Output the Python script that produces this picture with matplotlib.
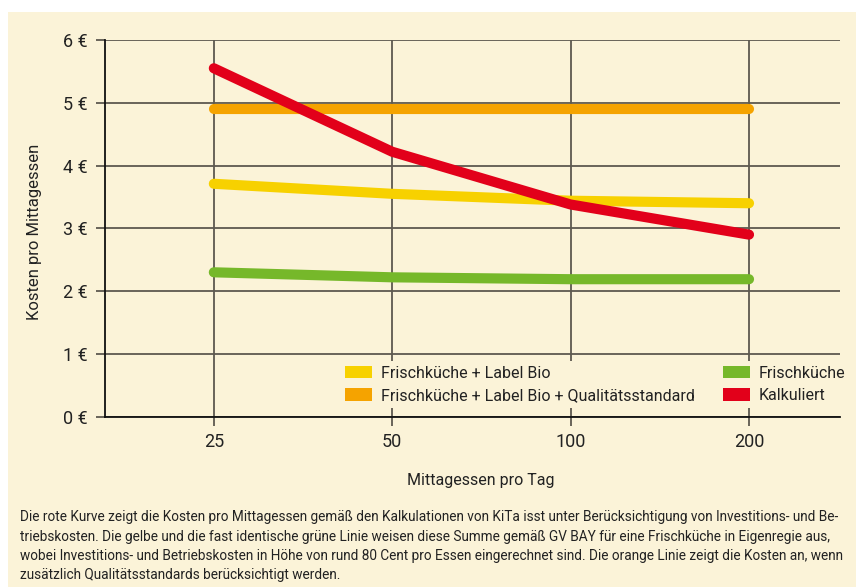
import matplotlib
matplotlib.use('Agg')
import matplotlib.pyplot as plt
from matplotlib.patches import Patch

plt.rcParams['font.family'] = ['Roboto', 'DejaVu Sans']

# ------------------------------------------------------------
# Daten
# ------------------------------------------------------------
meals = ['25', '50', '100', '200']
y_ticks = [0, 1, 2, 3, 4, 5, 6]
y_tick_labels = ['0 €', '1 €', '2 €', '3 €', '4 €', '5 €', '6 €']

bio = [3.71, 3.55, 3.44, 3.40]            # Frischküche + Label Bio
bio_quality = [4.90, 4.90, 4.90, 4.90]    # + Qualitätsstandard
fresh = [2.30, 2.22, 2.19, 2.19]          # Frischküche
calculated = [5.55, 4.22, 3.38, 2.90]     # Kalkuliert

labels = ['Frischküche + Label Bio',
          'Frischküche + Label Bio + Qualitätsstandard',
          'Frischküche',
          'Kalkuliert']

caption = [
    'Die rote Kurve zeigt die Kosten pro Mittagessen gemäß den Kalkulationen von KiTa isst unter Berücksichtigung von Investitions- und Be-',
    'triebskosten. Die gelbe und die fast identische grüne Linie weisen diese Summe gemäß GV BAY für eine Frischküche in Eigenregie aus,',
    'wobei Investitions- und Betriebskosten in Höhe von rund 80 Cent pro Essen eingerechnet sind. Die orange Linie zeigt die Kosten an, wenn',
    'zusätzlich Qualitätsstandards berücksichtigt werden.',
]

# ------------------------------------------------------------
# Farben
# ------------------------------------------------------------
BG = '#FBF3D8'
YELLOW = '#F7D100'
ORANGE = '#F5A300'
GREEN = '#76B82A'
RED = '#E2001A'
GRID = '#5d594f'
TEXT = '#222222'
FS = 11.5

W, H = 856, 587
fig = plt.figure(figsize=(W / 100, H / 100), dpi=100)
fig.patch.set_facecolor('white')
# cremefarbener Kasten (oben/links weißer Rand)
fig.patches.append(plt.Rectangle((8 / W, 0), 1, 1 - 12 / H, transform=fig.transFigure,
                                 facecolor=BG, edgecolor='none', zorder=-10))

ax = fig.add_axes([105 / W, 1 - 416.7 / H, (840 - 105) / W, (416.7 - 40) / H])
ax.set_facecolor(BG)

x = list(range(len(meals)))
lw = 7.3
ax.plot(x, fresh, color=GREEN, lw=lw, solid_capstyle='round', solid_joinstyle='round', zorder=3)
ax.plot(x, bio, color=YELLOW, lw=lw, solid_capstyle='round', solid_joinstyle='round', zorder=4)
ax.plot(x, bio_quality, color=ORANGE, lw=lw, solid_capstyle='round', solid_joinstyle='round', zorder=5)
ax.plot(x, calculated, color=RED, lw=lw, solid_capstyle='round', solid_joinstyle='round', zorder=6)

ax.set_xlim(-0.61, 3.51)
ax.set_ylim(0, 6)
ax.set_xticks(x)
ax.set_xticklabels(meals)
ax.set_yticks(y_ticks)
ax.set_yticklabels(y_tick_labels)

ax.grid(True, color=GRID, lw=1.3, zorder=1)
ax.tick_params(axis='both', length=6.5, width=1.3, color=GRID, labelsize=13, labelcolor=TEXT)
ax.tick_params(axis='y', pad=6)
ax.tick_params(axis='x', pad=5.5)
for s in ['top', 'right']:
    ax.spines[s].set_visible(False)
for s in ['left', 'bottom']:
    ax.spines[s].set_color('#111111')
    ax.spines[s].set_linewidth(1.3)
    ax.spines[s].set_zorder(2)

fig.text(35 / W, 1 - 232 / H, 'Kosten pro Mittagessen', rotation=90,
         ha='center', va='center', fontsize=12, color=TEXT)
fig.text(481 / W, 1 - 480 / H, 'Mittagessen pro Tag',
         ha='center', va='center', fontsize=FS, color=TEXT)

# Legende in zwei Blöcken
colors = [YELLOW, ORANGE, GREEN, RED]
handles = [Patch(facecolor=c, edgecolor='none') for c in colors]
leg_kw = dict(loc='upper left', frameon=True, facecolor=BG, edgecolor='none', framealpha=1,
              fontsize=FS, handlelength=1.7, handleheight=0.8, handletextpad=0.55,
              labelspacing=0.45, borderpad=0.3, borderaxespad=0)
leg1 = ax.legend(handles[:2], labels[:2], bbox_to_anchor=(340 / W, 1 - 361 / H),
                 bbox_transform=fig.transFigure, **leg_kw)
for t in leg1.get_texts():
    t.set_color(TEXT)
ax.add_artist(leg1)
leg2 = ax.legend(handles[2:], labels[2:], bbox_to_anchor=(718 / W, 1 - 361 / H),
                 bbox_transform=fig.transFigure, **leg_kw)
for t in leg2.get_texts():
    t.set_color(TEXT)
leg1.set_zorder(7)
leg2.set_zorder(7)

# Bildunterschrift
for i, line in enumerate(caption):
    fig.text(20 / W, 1 - (517 + i * 19.5) / H, line, ha='left', va='center',
             fontsize=9.8, color=TEXT)

fig.savefig('out.png', dpi=100, facecolor=fig.get_facecolor())
